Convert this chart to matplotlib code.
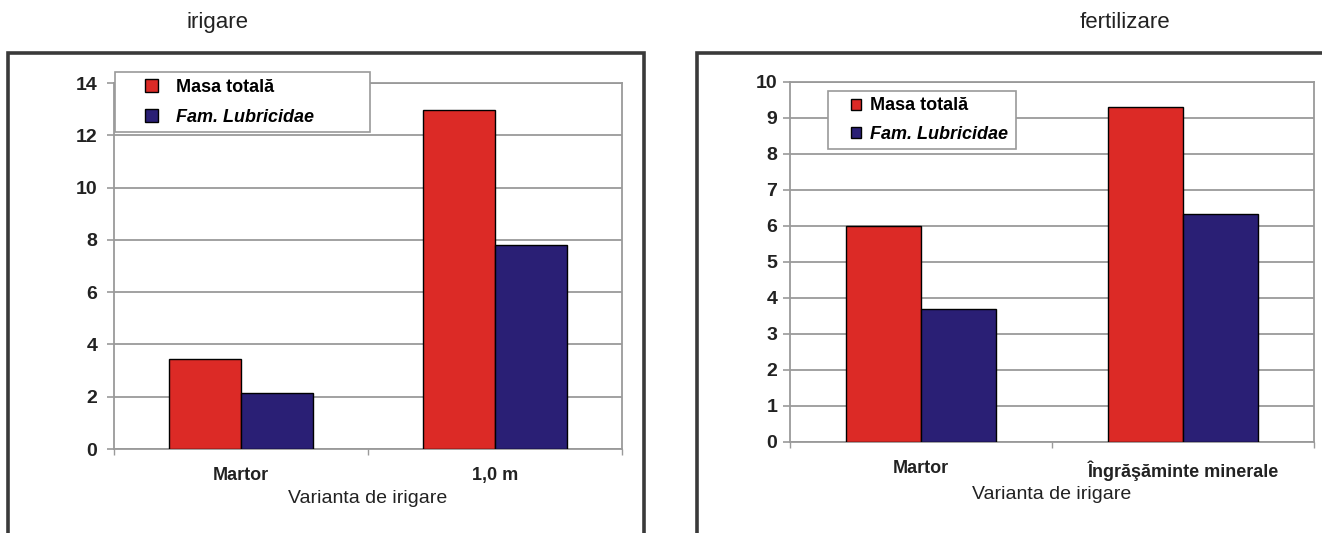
import numpy as np
import matplotlib
matplotlib.use('Agg')
import matplotlib.pyplot as plt
from matplotlib.patches import Rectangle
from matplotlib.container import BarContainer
from matplotlib.legend_handler import HandlerPatch, update_from_first_child

plt.rcParams['font.family'] = ['Liberation Sans', 'DejaVu Sans']

# Data
series_names = ['Masa totală', 'Fam. Lubricidae']
irig_categories = ['Martor', '1,0 m']
irig_masa = [3.45, 12.95]
irig_lumbr = [2.15, 7.8]
fert_categories = ['Martor', 'Îngrăşăminte minerale']
fert_masa = [6.0, 9.3]
fert_lumbr = [3.7, 6.32]
xlabel = 'Varianta de irigare'

RED = '#dc2a26'
BLUE = '#2a1f75'
GRID = '#9a9a9a'
W, H = 1322, 533

fig = plt.figure(figsize=(W / 100, H / 100), dpi=100)


def px(x0, y0, x1, y1):
    # pixel box (top-left origin) -> figure fraction rect
    return [x0 / W, 1 - y1 / H, (x1 - x0) / W, (y1 - y0) / H]


def square_handler(frac):
    def make(legend, orig_handle, xdescent, ydescent, width, height, fontsize):
        s = frac * fontsize
        return Rectangle((-xdescent + width - s, -ydescent + (height - s) / 2), s, s)
    return HandlerPatch(patch_func=make, update_func=update_from_first_child)


def draw_panel(ax, cats, masa, lumbr, ymax, step, leg_box, hlen, hpad, sq, lspace, ypad):
    x = np.arange(len(cats))
    w = 0.285
    b1 = ax.bar(x - w / 2, masa, w, color=RED, edgecolor='black', linewidth=1.0,
                label=series_names[0], zorder=3)
    b2 = ax.bar(x + w / 2, lumbr, w, color=BLUE, edgecolor='black', linewidth=1.0,
                label=series_names[1], zorder=3)
    ax.set_xlim(-0.5, len(cats) - 0.5)
    ax.set_ylim(0, ymax)
    ax.set_yticks(np.arange(0, ymax + 0.01, step))
    ax.yaxis.grid(True, color=GRID, linewidth=1.3, zorder=0)
    ax.set_axisbelow(True)
    for sp in ax.spines.values():
        sp.set_color(GRID)
        sp.set_linewidth(1.3)
    ax.set_xticks(x)
    ax.set_xticklabels(cats, fontsize=13, fontweight='bold', color='#222222')
    ax.tick_params(axis='x', length=0, pad=13)
    ax.set_xticks(np.arange(-0.5, len(cats)), minor=True)
    ax.tick_params(axis='x', which='minor', length=4, color=GRID, width=1)
    ax.tick_params(axis='y', length=5, color=GRID, width=1.2, pad=ypad)
    for t in ax.get_yticklabels():
        t.set_fontsize(14)
        t.set_fontweight('bold')
        t.set_color('#222222')
    ax.set_xlabel(xlabel, fontsize=14, color='#222222', labelpad=4)

    bx, by, bw = leg_box
    leg = ax.legend(handles=[b1, b2], loc='upper left', bbox_to_anchor=(bx, by, bw, 0),
                    mode='expand', borderaxespad=0, fancybox=False, framealpha=1,
                    edgecolor=GRID, prop={'size': 13, 'weight': 'bold'},
                    handlelength=hlen, handleheight=0.8, handletextpad=hpad,
                    labelspacing=lspace, borderpad=0.35,
                    handler_map={BarContainer: square_handler(sq)})
    leg.get_frame().set_linewidth(1.2)
    leg.get_texts()[1].set_style('italic')
    leg.set_zorder(5)
    return leg


# panel frames
frame_kw = dict(transform=fig.transFigure, fill=False, edgecolor='#3a3a3a', linewidth=2.6)
fig.add_artist(Rectangle((8 / W, -0.05), (644 - 8) / W, 1.05 - 53 / H, **frame_kw))
fig.add_artist(Rectangle((697 / W, -0.05), 0.6, 1.05 - 53 / H, **frame_kw))

fig.text(217 / W, 1 - 22 / H, 'irigare', fontsize=16, color='#222222', ha='center', va='center')
fig.text(1125 / W, 1 - 22 / H, 'fertilizare', fontsize=16, color='#222222', ha='center', va='center')

ax1 = fig.add_axes(px(114, 83, 622, 449))
draw_panel(ax1, irig_categories, irig_masa, irig_lumbr, 14, 2,
           ((115 - 114) / 508, (449 - 72) / 366, 255 / 508),
           hlen=2.05, hpad=1.0, sq=0.72, lspace=0.74, ypad=7)

ax2 = fig.add_axes(px(790, 82, 1314, 442))
draw_panel(ax2, fert_categories, fert_masa, fert_lumbr, 10, 1,
           ((828 - 790) / 524, (442 - 91) / 360, 188 / 524),
           hlen=1.5, hpad=0.5, sq=0.6, lspace=0.63, ypad=4)

fig.savefig('out.png', dpi=100)
